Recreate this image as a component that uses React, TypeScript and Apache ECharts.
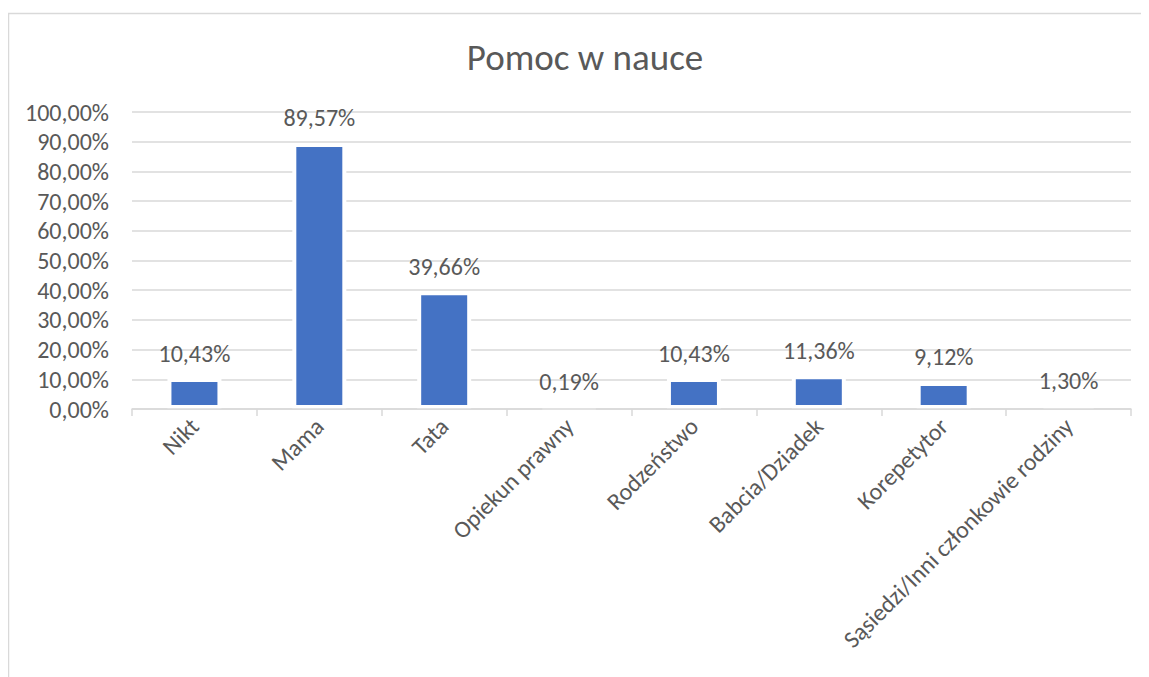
import React, { useEffect, useRef } from "react";
import * as echarts from "echarts";

const title = "Pomoc w nauce";
const categories = [
  "Nikt",
  "Mama",
  "Tata",
  "Opiekun prawny",
  "Rodzeństwo",
  "Babcia/Dziadek",
  "Korepetytor",
  "Sąsiedzi/Inni członkowie rodziny",
];
const values = [10.43, 89.57, 39.66, 0.19, 10.43, 11.36, 9.12, 1.3];
const yMin = 0;
const yMax = 100;
const yInterval = 10;

const FONT = "Carlito, Calibri, Lato, sans-serif";
const TEXT = "#595959";
const GRID = "#d9d9d9";

const fmt = (v: number) => v.toFixed(2).replace(".", ",") + "%";

export default function App() {
  const ref = useRef<HTMLDivElement>(null);
  useEffect(() => {
    if (!ref.current) return;
    const chart = echarts.init(ref.current, undefined, { renderer: "svg" });
    chart.setOption({
      animation: false,
      backgroundColor: "#ffffff",
      textStyle: { fontFamily: FONT },
      title: {
        text: title,
        left: 572,
        top: 26,
        textAlign: "center",
        textStyle: { fontFamily: FONT, fontSize: 37, fontWeight: "normal", color: TEXT },
      },
      graphic: [
        {
          type: "rect",
          shape: { x: 0.5, y: 5.5, width: 1160, height: 700 },
          style: { fill: "none", stroke: GRID, lineWidth: 1.5 },
          silent: true,
        },
      ],
      grid: { left: 124, right: 18, top: 104, bottom: 268, containLabel: false },
      xAxis: {
        type: "category",
        data: categories,
        z: 5,
        axisLine: { show: true, lineStyle: { color: GRID, width: 1.5 } },
        axisTick: { show: true, length: 7, alignWithLabel: false, lineStyle: { color: GRID, width: 1.5 } },
        axisLabel: {
          rotate: 45,
          interval: 0,
          margin: 13,
          color: TEXT,
          fontFamily: FONT,
          fontSize: 24,
        },
        splitLine: { show: false },
      },
      yAxis: {
        type: "value",
        min: yMin,
        max: yMax,
        interval: yInterval,
        axisLine: { show: false },
        axisTick: { show: false },
        axisLabel: {
          margin: 23,
          color: TEXT,
          fontFamily: FONT,
          fontSize: 24,
          formatter: (v: number) => fmt(v),
        },
        splitLine: { show: true, lineStyle: { color: GRID, width: 1.5 } },
      },
      series: [
        {
          type: "bar",
          data: values,
          barWidth: 54,
          itemStyle: { color: "#4472c4", borderColor: "#ffffff", borderWidth: 4 },
          label: {
            show: true,
            position: "top",
            distance: 13,
            color: TEXT,
            fontFamily: FONT,
            fontSize: 24,
            formatter: (p: any) => fmt(p.value),
          },
        },
      ],
    });
    return () => chart.dispose();
  }, []);
  return <div ref={ref} style={{ width: 1141, height: 669 }} />;
}
